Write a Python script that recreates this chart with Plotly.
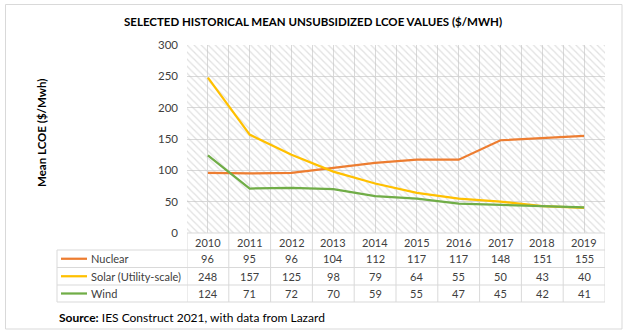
import plotly.graph_objects as go

years = ["2010", "2011", "2012", "2013", "2014", "2015", "2016", "2017", "2018", "2019"]
nuclear = [96, 95, 96, 104, 112, 117, 117, 148, 151, 155]
solar = [248, 157, 125, 98, 79, 64, 55, 50, 43, 40]
wind = [124, 71, 72, 70, 59, 55, 47, 45, 42, 41]
series_names = ["Nuclear", "Solar (Utility-scale)", "Wind"]
series_values = [nuclear, solar, wind]
series_colors = ["#ED7D31", "#FFC000", "#70AD47"]

W, H = 629, 335
L, R, T, B = 187, 605, 45, 233
FONT = "Lato"
GRID = "#d9d9d9"
TXT = "#404040"


def px(x):
    return (x - L) / (R - L)


def py(y):
    return (B - y) / (B - T)


xs = list(range(len(years)))
ymin, ymax = 0, 300

fig = go.Figure()

# hatched plot background
fig.add_trace(go.Scatter(
    x=[-0.5, len(years) - 0.5, len(years) - 0.5, -0.5, -0.5],
    y=[ymin, ymin, ymax, ymax, ymin],
    mode="lines", line=dict(width=0), fill="toself",
    fillcolor="rgba(0,0,0,0)",
    fillpattern=dict(shape="\\", fgcolor="#c4c4c4", bgcolor="rgba(0,0,0,0)",
                     size=5, solidity=0.25),
    hoverinfo="skip", showlegend=False))

for name, vals, col in zip(series_names, series_values, series_colors):
    fig.add_trace(go.Scatter(x=xs, y=vals, mode="lines", name=name,
                             line=dict(color=col, width=2.25), showlegend=False))

shapes = []
# outer border
shapes.append(dict(type="rect", xref="paper", yref="paper",
                   x0=px(5.5), x1=px(622), y0=py(329), y1=py(4.5),
                   line=dict(color=GRID, width=1), fillcolor="rgba(0,0,0,0)", layer="below"))
# table horizontal lines
for yy in [250, 267.5, 285, 302]:
    shapes.append(dict(type="line", xref="paper", yref="paper",
                       x0=px(57), x1=1, y0=py(yy), y1=py(yy),
                       line=dict(color=GRID, width=1)))
shapes.append(dict(type="line", xref="paper", yref="paper",
                   x0=0, x1=1, y0=py(233), y1=py(233), line=dict(color=GRID, width=1)))
# table vertical lines
shapes.append(dict(type="line", xref="paper", yref="paper",
                   x0=px(57), x1=px(57), y0=py(250), y1=py(302),
                   line=dict(color=GRID, width=1)))
for k in range(len(years) + 1):
    shapes.append(dict(type="line", xref="x", yref="paper",
                       x0=k - 0.5, x1=k - 0.5, y0=py(233), y1=py(302),
                       line=dict(color=GRID, width=1)))

row_y = [258.75, 276.25, 293.5]
annotations = []
for i, yr in enumerate(years):
    annotations.append(dict(x=i, y=py(242), xref="x", yref="paper", text=yr,
                            xanchor="center", yanchor="middle",
                            showarrow=False, font=dict(family=FONT, size=11, color=TXT)))
for r, (name, vals, col) in enumerate(zip(series_names, series_values, series_colors)):
    shapes.append(dict(type="line", xref="paper", yref="paper",
                       x0=px(61), x1=px(87), y0=py(row_y[r]), y1=py(row_y[r]),
                       line=dict(color=col, width=2.25)))
    annotations.append(dict(x=px(89), y=py(row_y[r]), xref="paper", yref="paper",
                            text=name, xanchor="left", yanchor="middle", showarrow=False,
                            font=dict(family=FONT, size=11, color=TXT)))
    for i, v in enumerate(vals):
        annotations.append(dict(x=i, y=py(row_y[r]), xref="x", yref="paper",
                                text=str(v), xanchor="center", yanchor="middle",
                                showarrow=False,
                                font=dict(family=FONT, size=11, color=TXT)))

annotations.append(dict(x=px(313), y=py(21), xref="paper", yref="paper",
                        xanchor="center", yanchor="middle",
                        text="<b>SELECTED HISTORICAL MEAN UNSUBSIDIZED LCOE VALUES ($/MWH)</b>",
                        showarrow=False, font=dict(family=FONT, size=11.5, color="#000")))
annotations.append(dict(x=px(41), y=py(133), xref="paper", yref="paper",
                        xanchor="center", yanchor="middle",
                        text="<b>Mean LCOE ($/Mwh)</b>", textangle=-90,
                        showarrow=False, font=dict(family=FONT, size=11.5, color="#000")))
annotations.append(dict(x=px(57), y=py(317), xref="paper", yref="paper",
                        xanchor="left", yanchor="middle",
                        text="<b>Source:</b> IES Construct 2021, with data from Lazard",
                        showarrow=False, font=dict(family=FONT, size=12, color="#000")))

fig.update_layout(
    width=W, height=H,
    margin=dict(l=L, r=W - R, t=T, b=H - B),
    paper_bgcolor="white", plot_bgcolor="white",
    shapes=shapes, annotations=annotations,
    xaxis=dict(range=[-0.5, len(years) - 0.5],
               tickvals=[k * 0.5 - 0.5 for k in range(2 * len(years) + 1)],
               showticklabels=False, showgrid=True, gridcolor=GRID, gridwidth=1,
               zeroline=False, showline=False, ticks=""),
    yaxis=dict(range=[ymin, ymax], dtick=50, showgrid=True, gridcolor=GRID, gridwidth=1,
               zeroline=False, showline=False, ticks="", ticklabelstandoff=8,
               tickfont=dict(family=FONT, size=11.5, color="#404040")),
    font=dict(family=FONT),
)

fig.write_html("out.html")
